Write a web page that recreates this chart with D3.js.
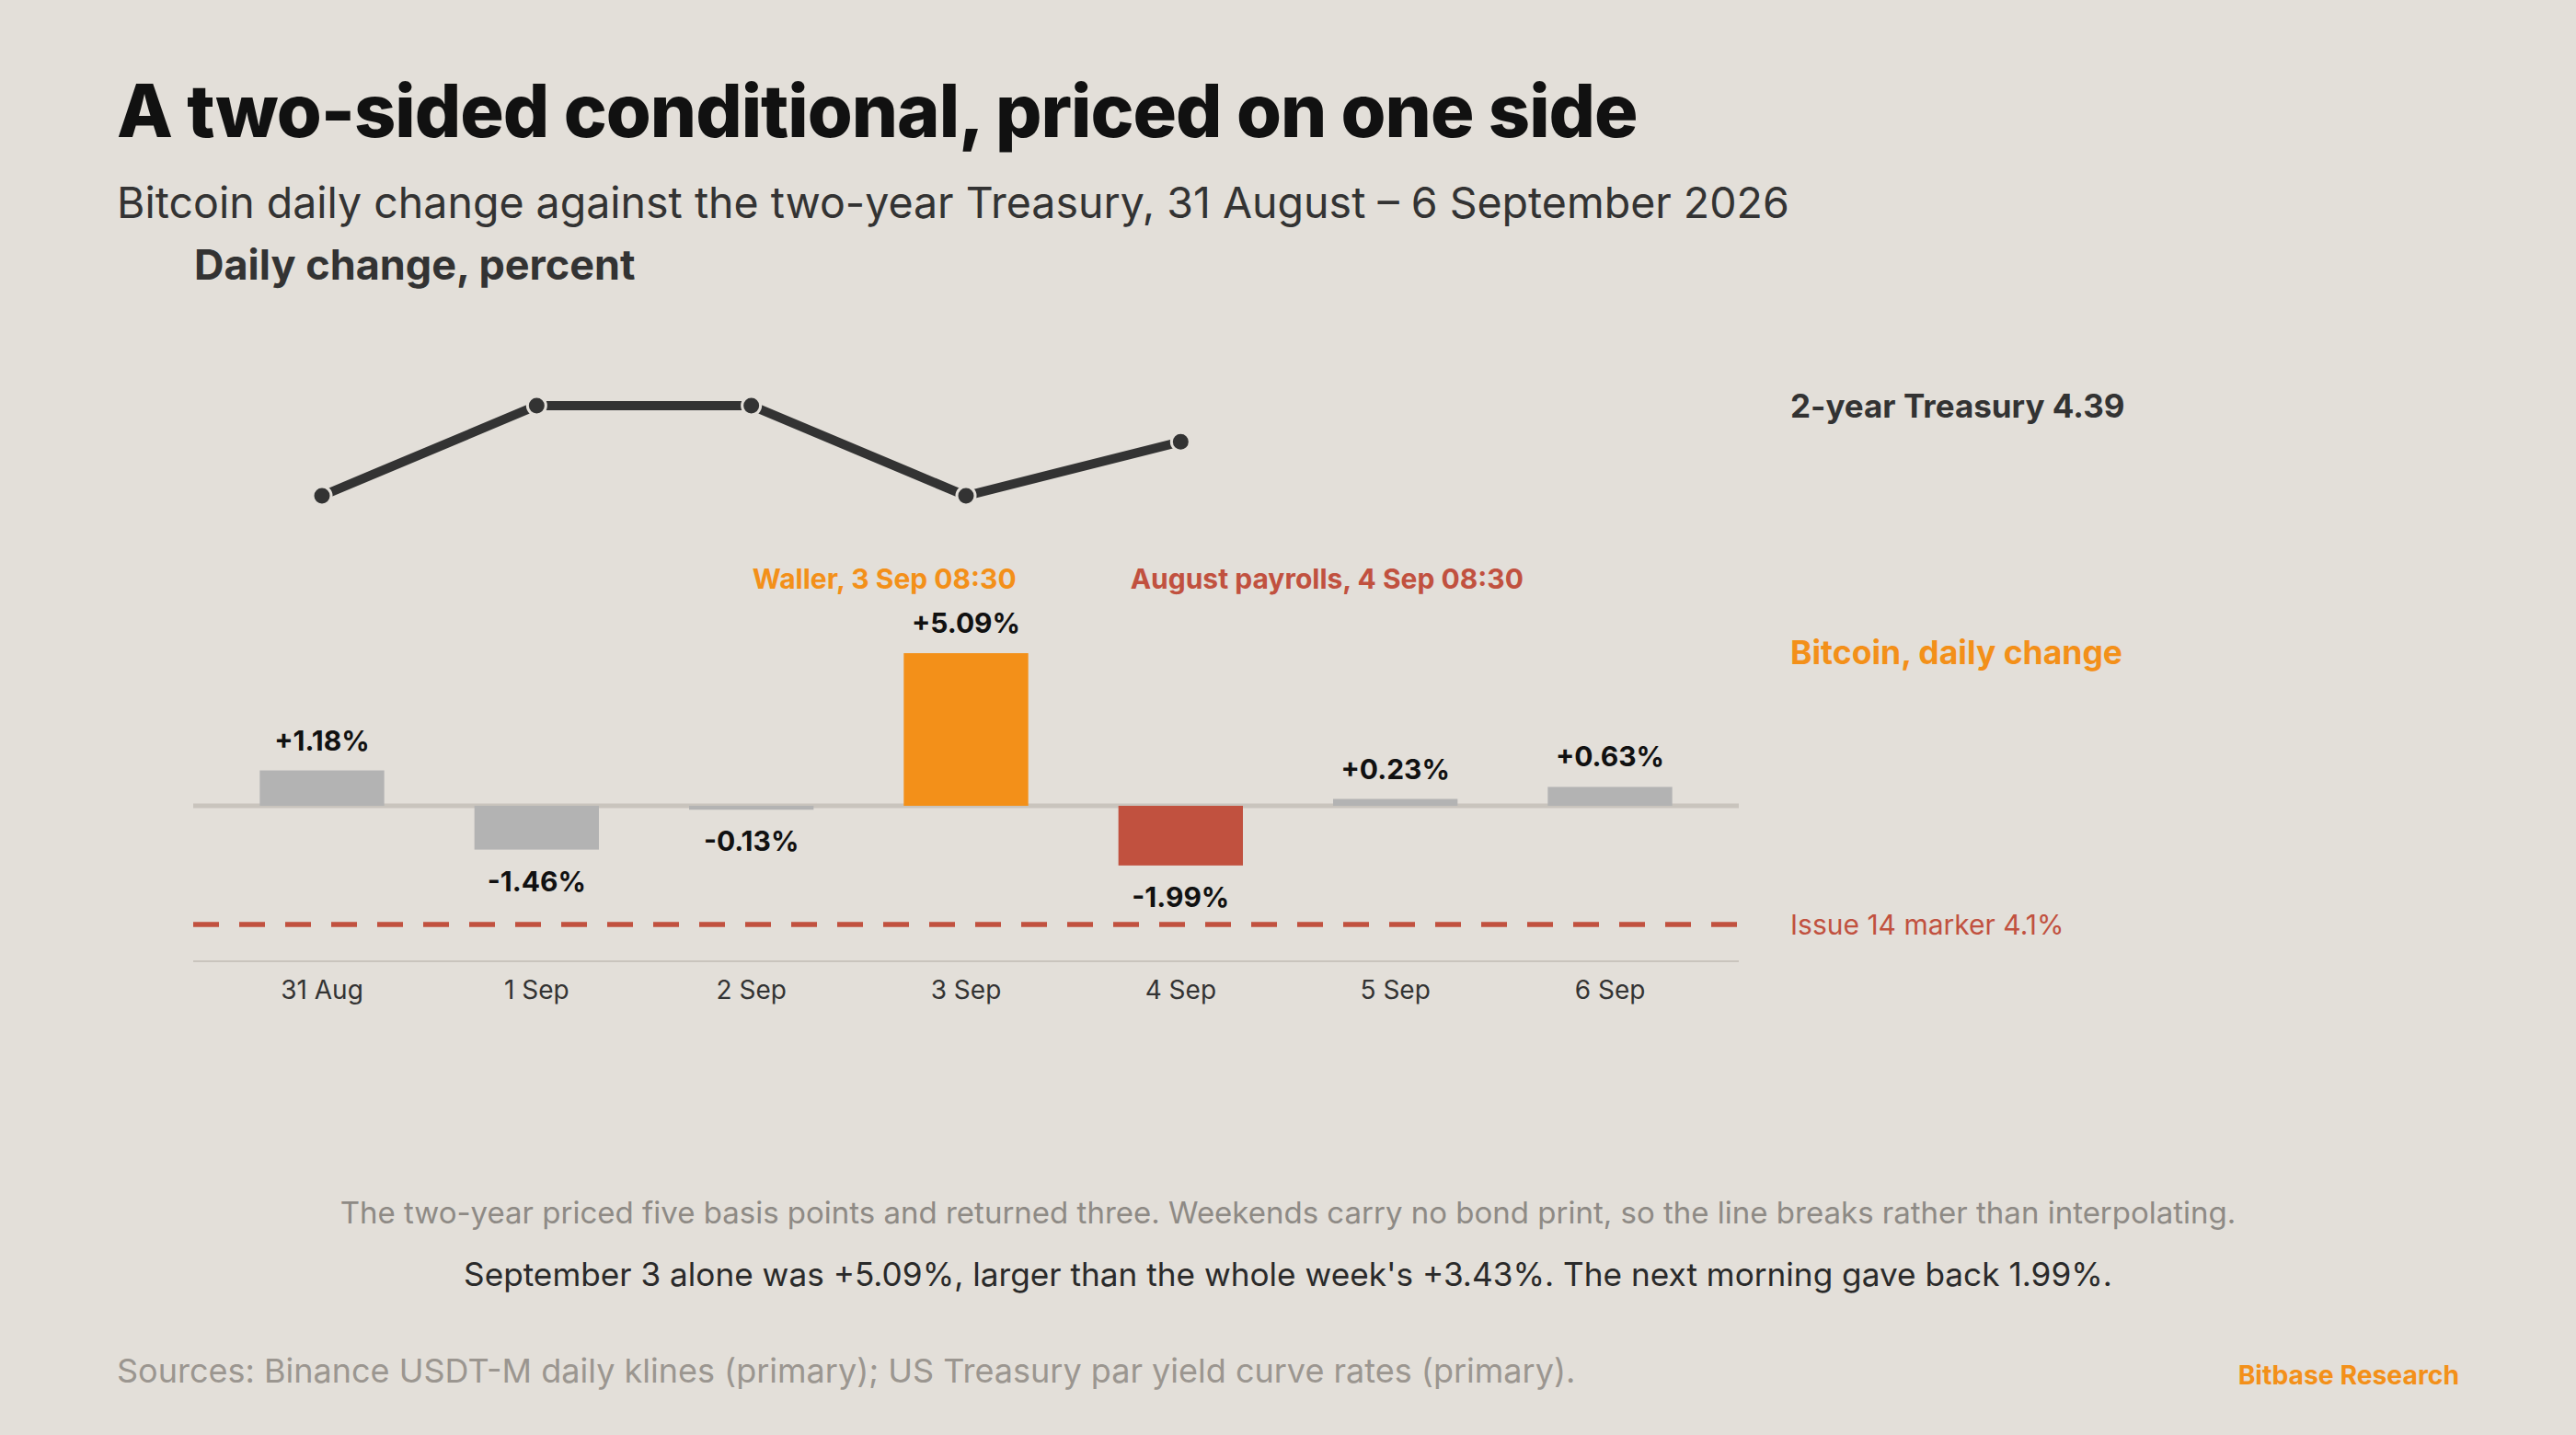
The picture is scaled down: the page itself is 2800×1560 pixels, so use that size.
<!DOCTYPE html>
<html>
<head>
<meta charset="utf-8">
<script src="https://cdn.jsdelivr.net/npm/d3@7"></script>
<style>
  html, body { margin: 0; padding: 0; background: #e3dfd9; }
  svg { display: block; font-family: Inter, "Open Sans", sans-serif; }
</style>
</head>
<body>
<div id="chart"></div>
<script>
// week of 31 Aug - 6 Sep
const days = ["31 Aug", "1 Sep", "2 Sep", "3 Sep", "4 Sep", "5 Sep", "6 Sep"];
const btcChange = [1.18, -1.46, -0.13, 5.09, -1.99, 0.23, 0.63];
// two-year yield, no print on the weekend
const treasury = [4.36, 4.41, 4.41, 4.36, 4.39, null, null];
const eventDays = ["3 Sep", "4 Sep"];
const eventLabels = ["Waller, 3 Sep 08:30", "August payrolls, 4 Sep 08:30"];
const markerLabel = "Issue 14 marker 4.1%";

const W = 2800, H = 1560;
const bg = "#e3dfd9";
const orange = "#f39019", red = "#c1513f", grey = "#b3b3b3", ink = "#333333";

const svg = d3.select("#chart").append("svg")
  .attr("width", W)
  .attr("height", H);

svg.append("rect").attr("width", W).attr("height", H).attr("fill", bg);

// headings
svg.append("text")
  .attr("x", 127).attr("y", 149)
  .attr("font-size", 79.2).attr("font-weight", 800)
  .attr("fill", "#111")
  .attr("letter-spacing", -1)
  .text("A two-sided conditional, priced on one side");

svg.append("text")
  .attr("x", 127).attr("y", 237)
  .attr("font-size", 46.5)
  .attr("fill", ink)
  .text("Bitcoin daily change against the two-year Treasury, 31 August \u2013 6 September 2026");

svg.append("text")
  .attr("x", 211).attr("y", 304)
  .attr("font-size", 45).attr("font-weight", 700)
  .attr("fill", ink)
  .text("Daily change, percent");

// scales
const x = d3.scaleBand()
  .domain(days)
  .range([210, 1890])
  .paddingInner(0.42)
  .paddingOuter(0.31);

const yBtc = d3.scaleLinear().domain([0, 5]).range([876, 713]);
const yYield = d3.scaleLinear().domain([4.36, 4.41]).range([539, 441]);
const markerY = 1005, axisY = 1045;
const cx = d => x(d) + x.bandwidth() / 2;

// treasury line
const tData = days.map((d, i) => ({ day: d, v: treasury[i] }));
const line = d3.line()
  .defined(d => d.v != null)
  .x(d => cx(d.day))
  .y(d => yYield(d.v));

svg.append("path")
  .datum(tData)
  .attr("d", line)
  .attr("fill", "none")
  .attr("stroke", ink)
  .attr("stroke-width", 10);

svg.selectAll(".tdot")
  .data(tData.filter(d => d.v != null))
  .join("circle")
  .attr("class", "tdot")
  .attr("cx", d => cx(d.day))
  .attr("cy", d => yYield(d.v))
  .attr("r", 10)
  .attr("fill", ink)
  .attr("stroke", bg)
  .attr("stroke-width", 3);

// zero line
svg.append("line")
  .attr("x1", 210).attr("x2", 1890)
  .attr("y1", yBtc(0)).attr("y2", yBtc(0))
  .attr("stroke", "#c9c4bd")
  .attr("stroke-width", 5);

// bars
const barColor = d => d === "3 Sep" ? orange : d === "4 Sep" ? red : grey;
const bData = days.map((d, i) => ({ day: d, v: btcChange[i] }));

svg.selectAll(".bar")
  .data(bData)
  .join("rect")
  .attr("class", "bar")
  .attr("x", d => x(d.day))
  .attr("width", x.bandwidth())
  .attr("y", d => Math.min(yBtc(d.v), yBtc(0)))
  .attr("height", d => Math.abs(yBtc(d.v) - yBtc(0)))
  .attr("fill", d => barColor(d.day));

svg.selectAll(".vlab")
  .data(bData)
  .join("text")
  .attr("class", "vlab")
  .attr("x", d => cx(d.day))
  .attr("y", d => d.v >= 0 ? yBtc(d.v) - 22 : yBtc(d.v) + 45)
  .attr("text-anchor", "middle")
  .attr("font-size", 30).attr("font-weight", 700)
  .attr("fill", "#111")
  .text(d => (d.v >= 0 ? "+" : "-") + Math.abs(d.v).toFixed(2) + "%");

// event annotations
svg.append("text")
  .attr("x", x(eventDays[0]) + x.bandwidth() - 13)
  .attr("y", 640)
  .attr("text-anchor", "end")
  .attr("font-size", 30).attr("font-weight", 700)
  .attr("fill", orange)
  .text(eventLabels[0]);

svg.append("text")
  .attr("x", x(eventDays[1]) + 13)
  .attr("y", 640)
  .attr("font-size", 30).attr("font-weight", 700)
  .attr("fill", red)
  .text(eventLabels[1]);

// marker line
svg.append("line")
  .attr("x1", 210).attr("x2", 1890)
  .attr("y1", markerY).attr("y2", markerY)
  .attr("stroke", red)
  .attr("stroke-width", 5.5)
  .attr("stroke-dasharray", "28 22");

// x axis
const xAxis = svg.append("g")
  .attr("transform", `translate(0,${axisY})`)
  .call(d3.axisBottom(x).tickSize(0).tickPadding(21));
xAxis.select(".domain")
  .attr("d", "M210,0H1890")
  .attr("stroke", "#c9c4bd")
  .attr("stroke-width", 2);
xAxis.selectAll(".tick text")
  .attr("font-family", "Inter, sans-serif")
  .attr("font-size", 28)
  .attr("fill", ink);

// right-hand labels
const lastYield = treasury.filter(v => v != null).slice(-1)[0];
svg.append("text")
  .attr("x", 1946).attr("y", yYield(d3.max(treasury)) + 13)
  .attr("font-size", 35).attr("font-weight", 700)
  .attr("fill", ink)
  .text("2-year Treasury " + lastYield.toFixed(2));

svg.append("text")
  .attr("x", 1946).attr("y", yBtc(d3.max(btcChange)) + 12)
  .attr("font-size", 35.5).attr("font-weight", 700)
  .attr("fill", orange)
  .text("Bitcoin, daily change");

svg.append("text")
  .attr("x", 1946).attr("y", markerY + 11)
  .attr("font-size", 30)
  .attr("fill", red)
  .text(markerLabel);

// notes
svg.append("text")
  .attr("x", W / 2).attr("y", 1330)
  .attr("text-anchor", "middle")
  .attr("font-size", 33)
  .attr("fill", "#8e8a85")
  .text("The two-year priced five basis points and returned three. Weekends carry no bond print, so the line breaks rather than interpolating.");

svg.append("text")
  .attr("x", W / 2).attr("y", 1398)
  .attr("text-anchor", "middle")
  .attr("font-size", 35.2)
  .attr("fill", "#2a2a2a")
  .text("September 3 alone was +5.09%, larger than the whole week's +3.43%. The next morning gave back 1.99%.");

svg.append("text")
  .attr("x", 127).attr("y", 1503)
  .attr("font-size", 36)
  .attr("fill", "#9b9690")
  .text("Sources: Binance USDT-M daily klines (primary); US Treasury par yield curve rates (primary).");

svg.append("text")
  .attr("x", 2673).attr("y", 1505)
  .attr("text-anchor", "end")
  .attr("font-size", 28.3).attr("font-weight", 700)
  .attr("fill", orange)
  .text("Bitbase Research");
</script>
</body>
</html>
